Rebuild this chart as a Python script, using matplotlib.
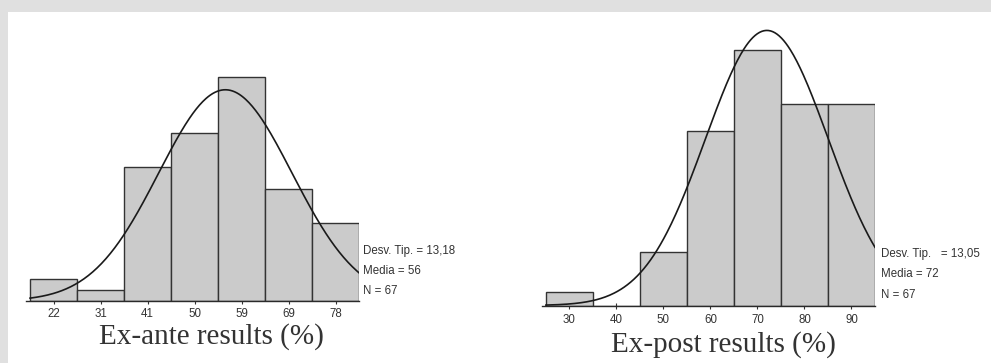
import numpy as np
import matplotlib.pyplot as plt
from matplotlib.patches import Rectangle

# Histogram data: ex-ante and ex-post results (%)
ante_labels = ["22", "31", "41", "50", "59", "69", "78"]
ante_counts = [2, 1, 12, 15, 20, 10, 7]
ante_start, ante_width = 17.35, 9.3
ante_mean, ante_sd, ante_n = 56, 13.18, 67

post_labels = ["30", "40", "50", "60", "70", "80", "90"]
post_counts = [1, 0, 4, 13, 19, 15, 15]
post_start, post_width = 25, 10
post_mean, post_sd, post_n = 72, 13.05, 67

W, H = 991, 363
fig = plt.figure(figsize=(W / 100, H / 100), dpi=100)
fig.patch.set_facecolor("#e0e0e0")
fig.patches.append(Rectangle((8 / W, 0), 1, (H - 12) / H, transform=fig.transFigure,
                             facecolor="white", edgecolor="none", zorder=-1))


def px_axes(x0, x1, y_top, y_base):
    # axes placed in pixel coordinates (y measured from the top)
    ax = fig.add_axes([x0 / W, (H - y_base) / H, (x1 - x0) / W, (y_base - y_top) / H])
    ax.set_zorder(2)
    return ax


def sd_str(v):
    return f"{v:.2f}".replace(".", ",")


def draw_hist(ax, labels, counts, start, width, mean, sd, n, left_pad, ytop, pad):
    centers = start + width * (np.arange(len(counts)) + 0.5)
    ax.bar(centers, counts, width=width, facecolor="#cbcbcb", edgecolor="#333333",
           linewidth=1.0, zorder=2)
    end = start + width * len(counts)
    xs = np.linspace(start, end, 300)
    ys = n * width / (sd * np.sqrt(2 * np.pi)) * np.exp(-0.5 * ((xs - mean) / sd) ** 2)
    ax.plot(xs, ys, color="#1a1a1a", linewidth=1.2, zorder=3)
    ax.set_xlim(start - left_pad, end)
    ax.set_ylim(0, ytop)
    ax.set_facecolor("none")
    for s in ["left", "right", "top"]:
        ax.spines[s].set_visible(False)
    ax.spines["bottom"].set_color("#2a2a2a")
    ax.spines["bottom"].set_linewidth(1.0)
    ax.set_yticks([])
    ax.set_xticks(centers)
    ax.set_xticklabels(labels, fontfamily="Liberation Sans", fontsize=8.3, color="#333333")
    ax.tick_params(axis="x", direction="inout", length=4, width=0.8, color="#333333", pad=pad)


ax1 = px_axes(26, 359, 12, 301)
draw_hist(ax1, ante_labels, ante_counts, ante_start, ante_width,
          ante_mean, ante_sd, ante_n, 0.8, 289 / 11.2, 3.3)

ax2 = px_axes(541.7, 875, 12, 305.5)
draw_hist(ax2, post_labels, post_counts, post_start, post_width,
          post_mean, post_sd, post_n, 0.9, 293.5 / 13.43, 4.0)


def ftext(x, y, s, **kw):
    fig.text(x / W, (H - y) / H, s, **kw)


stat_kw = dict(fontfamily="Liberation Sans", fontsize=8.3, color="#333333", va="center", ha="left")
ftext(363, 251, "Desv. Tip. = " + sd_str(ante_sd), **stat_kw)
ftext(363, 271, f"Media = {ante_mean}", **stat_kw)
ftext(363, 291, f"N = {ante_n}", **stat_kw)

ftext(881, 254, "Desv. Tip.   = " + sd_str(post_sd), **stat_kw)
ftext(881, 274, f"Media = {post_mean}", **stat_kw)
ftext(881, 295, f"N = {post_n}", **stat_kw)

title_kw = dict(fontfamily="Liberation Serif", fontsize=21, color="#333333", va="center", ha="center")
ftext(211, 337, "Ex-ante results (%)", **title_kw)
ftext(723.5, 345, "Ex-post results (%)", **title_kw)

fig.savefig("out.png", dpi=100)
